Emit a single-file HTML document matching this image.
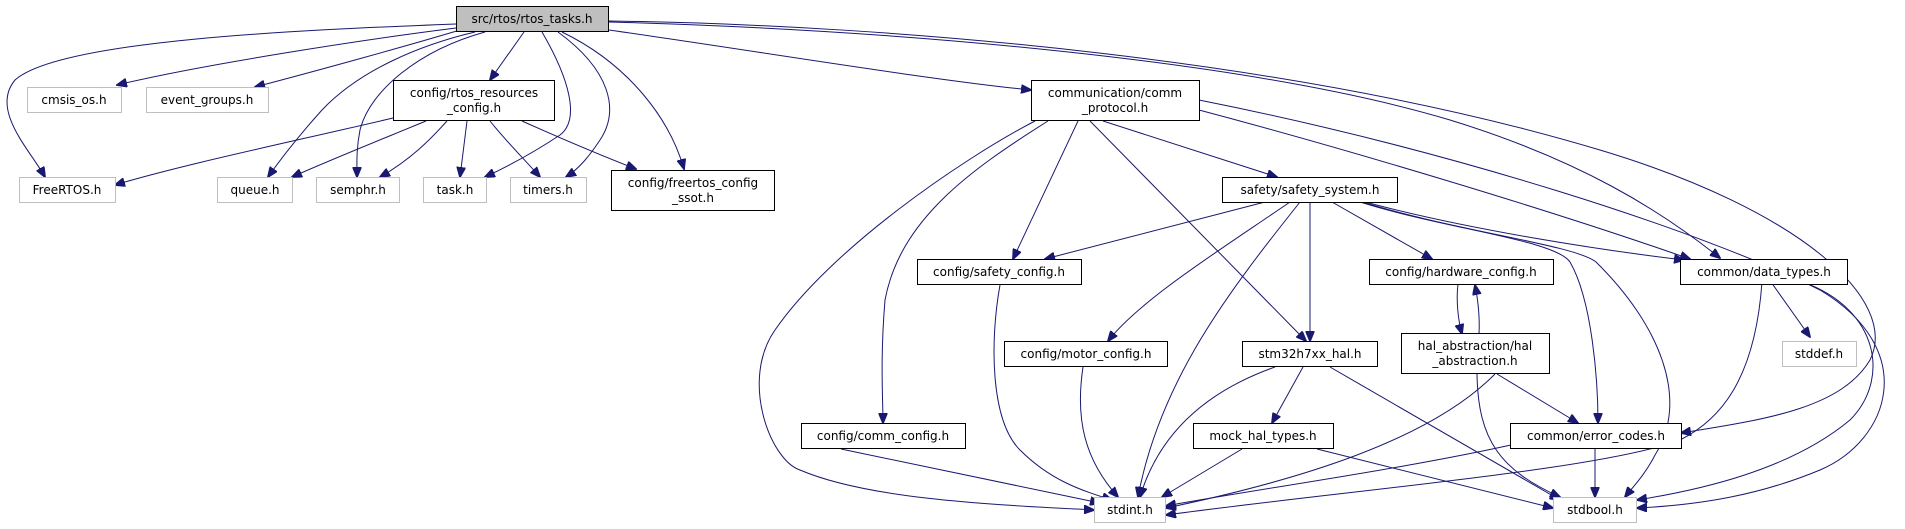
<!DOCTYPE html>
<html><head><meta charset="utf-8"><style>
html,body{margin:0;padding:0;background:#fff;}
svg{display:block;}
text{font-family:"DejaVu Sans","Liberation Sans",sans-serif;font-size:12px;fill:#000;text-anchor:middle;}
.b{fill:#fff;stroke:#000;stroke-width:1;}
.g{fill:#fff;stroke:#bfbfbf;stroke-width:1;}
.r{fill:#bfbfbf;stroke:#000;stroke-width:1;}
path.e{fill:none;stroke:#191970;stroke-width:1;}
</style></head><body>
<svg width="1905" height="529" viewBox="0 0 1905 529" xmlns="http://www.w3.org/2000/svg">
<defs>
<marker id="a" markerWidth="11" markerHeight="9" refX="10" refY="4.5" orient="auto" markerUnits="userSpaceOnUse">
<path d="M0,0 L11,4.5 L0,9 z" fill="#191970" stroke="#191970"/>
</marker>
</defs>
<g marker-end="url(#a)">
<path class="e" d="M456,24 C300,30 60,40 15,80 C-10,110 30,150 45,177"/>
<path class="e" d="M456,28 C360,40 200,65 117,85"/>
<path class="e" d="M460,30 C410,45 320,70 255,87"/>
<path class="e" d="M475,32 C420,45 360,70 322,110 C295,140 280,160 268,177"/>
<path class="e" d="M485,32 C420,50 370,90 360,130 C356,150 357,165 357,177"/>
<path class="e" d="M524,32 L490,80"/>
<path class="e" d="M542,32 C570,80 580,120 560,135 C530,155 500,170 485,177"/>
<path class="e" d="M558,32 C610,70 620,110 600,140 C590,155 580,168 566,177"/>
<path class="e" d="M562,32 C630,65 670,120 684,169"/>
<path class="e" d="M609,30 C750,50 930,80 1031,90"/>
<path class="e" d="M609,22 C900,30 1250,60 1450,120 C1580,160 1660,210 1720,258"/>
<path class="e" d="M609,21 C900,25 1300,60 1600,150 C1800,210 1900,300 1870,360 C1840,410 1760,420 1681,433"/>
<path class="e" d="M393,118 C300,140 180,165 115,185"/>
<path class="e" d="M426,121 C380,140 330,160 292,177"/>
<path class="e" d="M447,121 C430,140 410,160 380,177"/>
<path class="e" d="M467,121 L460,177"/>
<path class="e" d="M490,121 C505,140 525,160 540,177"/>
<path class="e" d="M522,121 C560,138 600,155 636,169"/>
<path class="e" d="M1035,121 C960,160 830,250 775,330 C740,380 770,460 800,470 C870,500 1000,505 1094,510"/>
<path class="e" d="M1048,121 C970,170 900,220 885,300 C880,360 883,400 883,423"/>
<path class="e" d="M1078,121 L1013,259"/>
<path class="e" d="M1090,121 L1306,341"/>
<path class="e" d="M1103,121 L1277,177"/>
<path class="e" d="M1199,110 C1350,150 1550,210 1690,259"/>
<path class="e" d="M1199,100 C1450,150 1700,230 1820,290 C1920,350 1890,440 1820,470 C1760,495 1700,505 1637,508"/>
<path class="e" d="M1265,202 L1045,259"/>
<path class="e" d="M1290,202 C1220,250 1140,300 1108,341"/>
<path class="e" d="M1300,202 C1230,290 1160,380 1138,497"/>
<path class="e" d="M1310,202 L1310,341"/>
<path class="e" d="M1332,202 L1432,259"/>
<path class="e" d="M1360,202 C1450,230 1555,240 1570,262 C1592,300 1598,380 1598,423"/>
<path class="e" d="M1362,202 C1460,232 1575,245 1596,262 C1660,325 1690,400 1655,455 C1645,475 1632,488 1625,497"/>
<path class="e" d="M1365,202 C1470,230 1600,250 1684,260"/>
<path class="e" d="M1458,284 C1456,300 1458,320 1462,334"/>
<path class="e" d="M1479,334 C1480,315 1478,300 1475,285"/>
<path class="e" d="M1495,374 C1430,440 1300,480 1166,508"/>
<path class="e" d="M1477,374 C1478,440 1500,470 1560,497"/>
<path class="e" d="M1497,374 L1578,423"/>
<path class="e" d="M1000,285 C990,340 990,420 1020,450 C1050,480 1080,490 1112,500"/>
<path class="e" d="M1083,367 C1075,420 1085,460 1118,497"/>
<path class="e" d="M1275,367 C1210,390 1160,430 1140,497"/>
<path class="e" d="M1303,367 L1272,423"/>
<path class="e" d="M1330,367 L1560,500"/>
<path class="e" d="M1242,449 L1162,497"/>
<path class="e" d="M1317,449 L1553,508"/>
<path class="e" d="M841,449 L1100,503"/>
<path class="e" d="M1520,443 C1400,470 1250,490 1166,506"/>
<path class="e" d="M1595,443 L1595,497"/>
<path class="e" d="M1762,282 C1755,380 1720,420 1680,440 C1600,470 1350,490 1166,515"/>
<path class="e" d="M1771,282 L1810,337"/>
<path class="e" d="M1803,282 C1880,310 1890,380 1850,420 C1790,470 1700,490 1637,500"/>
</g>
<rect class="r" x="456.5" y="6.5" width="152" height="25"/><text x="532" y="23">src/rtos/rtos_tasks.h</text>
<rect class="g" x="27.5" y="87.5" width="94" height="25"/><text x="74" y="104">cmsis_os.h</text>
<rect class="g" x="146.5" y="87.5" width="122" height="25"/><text x="207" y="104">event_groups.h</text>
<rect class="b" x="393.5" y="80.5" width="161" height="40"/><text x="474" y="97">config/rtos_resources</text><text x="474" y="112">_config.h</text>
<rect class="b" x="1031.5" y="80.5" width="168" height="40"/><text x="1115" y="97">communication/comm</text><text x="1115" y="112">_protocol.h</text>
<rect class="g" x="19.5" y="177.5" width="96" height="25"/><text x="67" y="194">FreeRTOS.h</text>
<rect class="g" x="217.5" y="177.5" width="75" height="25"/><text x="255" y="194">queue.h</text>
<rect class="g" x="316.5" y="177.5" width="83" height="25"/><text x="358" y="194">semphr.h</text>
<rect class="g" x="423.5" y="177.5" width="63" height="25"/><text x="455" y="194">task.h</text>
<rect class="g" x="510.5" y="177.5" width="76" height="25"/><text x="548" y="194">timers.h</text>
<rect class="b" x="611.5" y="170.5" width="163" height="40"/><text x="693" y="187">config/freertos_config</text><text x="693" y="202">_ssot.h</text>
<rect class="b" x="1222.5" y="177.5" width="175" height="25"/><text x="1310" y="194">safety/safety_system.h</text>
<rect class="b" x="917.5" y="259.5" width="164" height="25"/><text x="999" y="276">config/safety_config.h</text>
<rect class="b" x="1369.5" y="259.5" width="184" height="25"/><text x="1461" y="276">config/hardware_config.h</text>
<rect class="b" x="1680.5" y="259.5" width="167" height="25"/><text x="1764" y="276">common/data_types.h</text>
<rect class="b" x="1004.5" y="341.5" width="163" height="25"/><text x="1086" y="358">config/motor_config.h</text>
<rect class="b" x="1242.5" y="341.5" width="135" height="25"/><text x="1310" y="358">stm32h7xx_hal.h</text>
<rect class="b" x="1401.5" y="333.5" width="148" height="40"/><text x="1475" y="350">hal_abstraction/hal</text><text x="1475" y="365">_abstraction.h</text>
<rect class="g" x="1782.5" y="341.5" width="74" height="25"/><text x="1819" y="358">stddef.h</text>
<rect class="b" x="801.5" y="423.5" width="164" height="25"/><text x="883" y="440">config/comm_config.h</text>
<rect class="b" x="1193.5" y="423.5" width="140" height="25"/><text x="1263" y="440">mock_hal_types.h</text>
<rect class="b" x="1510.5" y="423.5" width="171" height="25"/><text x="1596" y="440">common/error_codes.h</text>
<rect class="g" x="1094.5" y="497.5" width="71" height="25"/><text x="1130" y="514">stdint.h</text>
<rect class="g" x="1553.5" y="497.5" width="83" height="25"/><text x="1595" y="514">stdbool.h</text>
</svg>
</body></html>
